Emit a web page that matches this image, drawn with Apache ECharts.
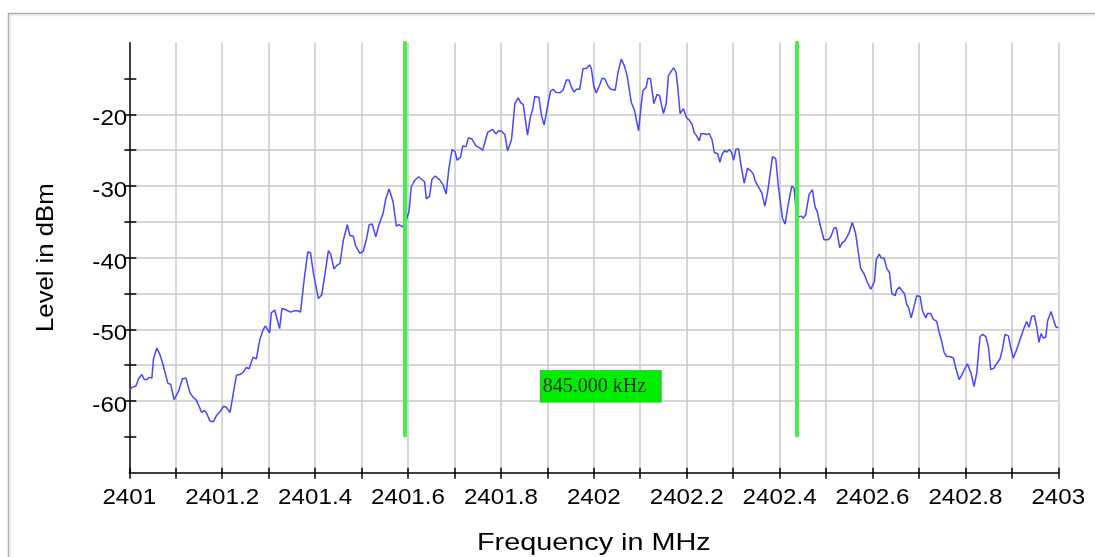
<!DOCTYPE html>
<html>
<head>
<meta charset="utf-8">
<script src="https://cdn.jsdelivr.net/npm/echarts@6/dist/echarts.min.js"></script>
<style>
html,body{margin:0;padding:0;background:#fff;}
#chart{width:1095px;height:557px;}
</style>
</head>
<body>
<div id="chart"></div>
<script>
// ---- data ----
const freqMHz = [
2401.0000,2401.0057,2401.0143,2401.0200,2401.0271,2401.0321,2401.0379,2401.0429,2401.0486,2401.0521,
2401.0593,2401.0664,2401.0721,2401.0757,2401.0829,2401.0893,2401.0964,2401.1057,2401.1143,2401.1221,
2401.1307,2401.1379,2401.1436,2401.1500,2401.1557,2401.1614,2401.1664,2401.1736,2401.1807,2401.1879,
2401.1950,2401.2036,2401.2093,2401.2171,2401.2236,2401.2307,2401.2379,2401.2450,2401.2521,2401.2579,
2401.2664,2401.2736,2401.2807,2401.2879,2401.2929,2401.2964,2401.3021,2401.3057,2401.3129,2401.3186,
2401.3236,2401.3286,2401.3343,2401.3471,2401.3557,2401.3629,2401.3686,2401.3771,2401.3843,2401.3900,
2401.3964,2401.4071,2401.4143,2401.4214,2401.4286,2401.4336,2401.4407,2401.4464,2401.4536,2401.4607,
2401.4693,2401.4750,2401.4821,2401.4871,2401.4964,2401.5036,2401.5107,2401.5164,2401.5229,2401.5307,
2401.5371,2401.5464,2401.5521,2401.5593,2401.5679,2401.5750,2401.5807,2401.5879,2401.5950,2401.6021,
2401.6071,2401.6143,2401.6229,2401.6357,2401.6393,2401.6464,2401.6514,2401.6586,2401.6679,2401.6750,
2401.6821,2401.6879,2401.6950,2401.7014,2401.7057,2401.7129,2401.7179,2401.7250,2401.7300,2401.7371,
2401.7464,2401.7550,2401.7607,2401.7714,2401.7821,2401.7893,2401.7950,2401.8021,2401.8086,2401.8143,
2401.8229,2401.8301,2401.8372,2401.8429,2401.8480,2401.8573,2401.8637,2401.8680,2401.8730,2401.8816,
2401.8873,2401.8931,2401.9016,2401.9067,2401.9124,2401.9181,2401.9267,2401.9339,2401.9374,2401.9410,
2401.9467,2401.9518,2401.9575,2401.9625,2401.9696,2401.9768,2401.9840,2401.9911,2401.9947,2402.0004,
2402.0054,2402.0126,2402.0176,2402.0233,2402.0305,2402.0362,2402.0462,2402.0520,2402.0591,2402.0663,
2402.0720,2402.0749,2402.0806,2402.0878,2402.0964,2402.1021,2402.1057,2402.1128,2402.1164,2402.1221,
2402.1293,2402.1364,2402.1414,2402.1500,2402.1558,2402.1608,2402.1665,2402.1722,2402.1772,2402.1808,
2402.1858,2402.1930,2402.1973,2402.2000,2402.2057,2402.2115,2402.2165,2402.2215,2402.2272,2402.2308,
2402.2379,2402.2429,2402.2487,2402.2544,2402.2594,2402.2666,2402.2716,2402.2759,2402.2823,2402.2859,
2402.2916,2402.2966,2402.3009,2402.3059,2402.3117,2402.3167,2402.3238,2402.3310,2402.3382,2402.3432,
2402.3475,2402.3560,2402.3618,2402.3682,2402.3739,2402.3847,2402.3918,2402.3969,2402.4011,2402.4062,
2402.4119,2402.4190,2402.4262,2402.4312,2402.4362,2402.4419,2402.4470,2402.4505,2402.4563,2402.4634,
2402.4706,2402.4763,2402.4813,2402.4863,2402.4956,2402.5042,2402.5100,2402.5171,2402.5221,2402.5293,
2402.5350,2402.5400,2402.5493,2402.5565,2402.5636,2402.5744,2402.5815,2402.5887,2402.5964,2402.6000,
2402.6043,2402.6079,2402.6143,2402.6186,2402.6251,2402.6308,2402.6366,2402.6416,2402.6487,2402.6523,
2402.6581,2402.6645,2402.6688,2402.6738,2402.6774,2402.6832,2402.6896,2402.6953,2402.7025,2402.7075,
2402.7147,2402.7183,2402.7254,2402.7312,2402.7384,2402.7434,2402.7491,2402.7541,2402.7599,2402.7670,
2402.7742,2402.7792,2402.7864,2402.7921,2402.7971,2402.8043,2402.8122,2402.8186,2402.8244,2402.8315,
2402.8373,2402.8437,2402.8495,2402.8545,2402.8616,2402.8659,2402.8746,2402.8796,2402.8853,2402.8925,
2402.8975,2402.9032,2402.9104,2402.9176,2402.9262,2402.9319,2402.9369,2402.9427,2402.9484,2402.9534,
2402.9584,2402.9627,2402.9677,2402.9728,2402.9771,2402.9842,2402.9878,2402.9943,2403.0000
];
const levelDBm = [
-58.5,-58.1,-57.9,-56.9,-56.3,-57.0,-57.0,-56.7,-56.8,-54.1,
-52.6,-53.6,-54.8,-54.9,-57.5,-57.7,-59.8,-58.7,-56.9,-56.8,
-58.9,-59.5,-59.8,-60.7,-61.6,-61.3,-61.7,-62.8,-62.9,-62.0,
-61.5,-60.7,-60.9,-61.6,-59.0,-56.4,-56.3,-56.0,-55.3,-55.5,
-53.9,-54.1,-51.5,-50.1,-49.5,-49.7,-50.5,-47.7,-47.3,-48.7,
-49.9,-47.1,-47.2,-47.6,-47.4,-47.4,-47.6,-42.7,-39.2,-39.3,
-42.2,-45.7,-45.2,-42.2,-39.0,-39.5,-41.6,-41.1,-40.8,-37.6,
-35.4,-36.9,-37.0,-38.3,-39.4,-39.1,-37.4,-35.4,-35.3,-37.1,
-35.5,-33.8,-31.8,-30.4,-32.2,-35.6,-35.4,-35.7,-35.0,-33.6,
-30.1,-29.2,-28.7,-29.4,-31.8,-31.4,-29.1,-28.6,-29.1,-29.8,
-31.1,-27.6,-24.9,-25.2,-26.4,-26.0,-24.4,-24.5,-23.3,-23.4,
-24.4,-24.7,-25.0,-22.5,-22.1,-22.7,-22.3,-22.4,-22.8,-25.1,
-23.5,-18.5,-17.7,-18.4,-18.6,-22.9,-20.3,-19.4,-17.5,-17.6,
-20.1,-21.5,-18.5,-16.8,-16.5,-16.9,-17.0,-16.6,-16.5,-15.2,
-15.2,-16.2,-16.9,-16.5,-16.5,-13.6,-13.6,-13.1,-13.6,-16.2,
-17.0,-15.9,-15.0,-15.0,-16.0,-16.5,-16.6,-14.2,-12.3,-13.3,
-14.7,-14.9,-18.3,-19.5,-22.3,-18.6,-16.7,-16.2,-15.0,-15.0,
-18.5,-17.2,-17.4,-19.9,-18.5,-14.6,-14.0,-13.5,-14.2,-16.2,
-19.9,-19.2,-19.4,-20.5,-20.8,-21.4,-22.6,-23.0,-23.7,-22.7,
-22.7,-22.8,-22.7,-23.5,-25.3,-25.5,-26.7,-25.6,-25.0,-25.3,
-24.9,-25.3,-26.4,-24.9,-24.8,-27.0,-29.6,-27.5,-27.9,-28.3,
-29.3,-30.3,-31.0,-32.8,-31.0,-25.9,-26.2,-29.8,-31.9,-34.5,
-35.3,-32.4,-30.0,-30.3,-34.0,-34.3,-34.2,-34.5,-34.0,-31.2,
-30.5,-32.9,-33.6,-35.2,-37.5,-37.5,-37.1,-35.9,-35.8,-38.6,
-37.9,-37.7,-36.6,-35.1,-36.6,-41.5,-42.2,-43.4,-44.4,-44.5,
-43.3,-40.3,-39.5,-40.0,-40.1,-41.5,-42.1,-45.0,-45.3,-44.5,
-44.1,-44.7,-45.0,-46.6,-46.9,-48.4,-46.8,-45.3,-45.4,-47.4,
-48.4,-47.8,-47.8,-48.6,-48.9,-50.4,-51.7,-53.2,-53.8,-53.8,
-54.0,-55.4,-57.0,-56.4,-55.7,-54.8,-56.1,-58.0,-56.1,-51.0,
-50.7,-51.0,-52.4,-55.6,-55.4,-54.9,-54.1,-52.8,-50.7,-50.9,
-52.5,-54.0,-52.8,-51.4,-49.8,-48.9,-49.7,-48.2,-48.1,-49.6,
-51.8,-50.6,-51.2,-51.1,-48.8,-47.5,-47.7,-49.6,-49.8
];
const markerFreqs = [2401.5925, 2402.4375];   // MHz, green marker lines
const markerSpan = [-10, -64.8];              // dBm extent of marker lines
const xTickLabels = ['2401','2401.2','2401.4','2401.6','2401.8','2402','2402.2','2402.4','2402.6','2402.8','2403'];
const yTickLabels = ['-60','-50','-40','-30','-20'];
const xAxisTitle = 'Frequency in MHz';
const yAxisTitle = 'Level in dBm';
const xLabelValues = xTickLabels.map(Number);
const yLabelValues = yTickLabels.map(Number);
const yTickValues = [-65,-60,-55,-50,-45,-40,-35,-30,-25,-20,-15];
const xTickValues = [];
for (let i = 0; i <= 20; i++) xTickValues.push(+(2401 + i * 0.1).toFixed(1));

// ---- chart ----
const chart = echarts.init(document.getElementById('chart'), null, {renderer: 'canvas'});
const FONT = '"Liberation Sans", Arial, sans-serif';
const SERIF = '"Liberation Serif", "Times New Roman", serif';
const seriesData = freqMHz.map((f, i) => [f, levelDBm[i]]);
const spanKHz = ((markerFreqs[1] - markerFreqs[0]) * 1000).toFixed(3) + ' kHz';

const option = {
  animation: false,
  backgroundColor: '#ffffff',
  graphic: [{
    id: 'frameOuter', type: 'rect', z: -10, silent: true,
    shape: {x: 8.5, y: 13.5, width: 1100, height: 600},
    style: {fill: 'none', stroke: '#ababab', lineWidth: 1.5}
  }, {
    id: 'frameInner', type: 'rect', z: -10, silent: true,
    shape: {x: 10.5, y: 15.5, width: 1100, height: 600},
    style: {fill: 'none', stroke: '#ececec', lineWidth: 1.5}
  }],
  grid: {left: 129.3, right: 36.7, top: 42.7, bottom: 84.3, containLabel: false, outerBoundsMode: 'none'},
  xAxis: [{
    type: 'value', min: 2401, max: 2403, interval: 0.1,
    axisLine: {show: true, onZero: false, lineStyle: {color: '#000', width: 1.5}},
    axisTick: {show: true, inside: false, length: 6, customValues: xTickValues, lineStyle: {color: '#000', width: 1.5}},
    axisLabel: {show: false},
    splitLine: {show: true, showMinLine: false, showMaxLine: true, lineStyle: {color: '#c8c8c8', width: 1.5}}
  }, {
    type: 'value', min: 2401, max: 2403, interval: 0.1, position: 'bottom', gridIndex: 0,
    axisLine: {show: false},
    axisTick: {show: true, inside: true, length: 5, customValues: xTickValues, lineStyle: {color: '#000', width: 1.5}},
    axisLabel: {show: false}, splitLine: {show: false}
  }],
  yAxis: [{
    type: 'value', min: -70, max: -10, interval: 5,
    axisLine: {show: true, onZero: false, lineStyle: {color: '#000', width: 1.5}},
    axisTick: {show: true, inside: false, length: 5, customValues: yTickValues, lineStyle: {color: '#000', width: 1.5}},
    axisLabel: {show: false},
    splitLine: {show: true, showMinLine: false, showMaxLine: false, lineStyle: {color: '#c8c8c8', width: 1.5}}
  }, {
    type: 'value', min: -70, max: -10, interval: 5, position: 'left', gridIndex: 0,
    axisLine: {show: false},
    axisTick: {show: true, inside: true, length: 7, customValues: yTickValues, lineStyle: {color: '#000', width: 1.5}},
    axisLabel: {show: false}, splitLine: {show: false}
  }],
  series: [{
    type: 'line', xAxisIndex: 0, yAxisIndex: 0,
    data: seriesData, showSymbol: false, symbol: 'none', smooth: false,
    lineStyle: {color: '#4646ff', width: 1.5},
    z: 3,
    markLine: {
      silent: true, symbol: ['none', 'none'], z: 4,
      label: {show: false},
      lineStyle: {color: '#48ee48', width: 4, type: 'solid', cap: 'round'},
      data: markerFreqs.map(f => [{coord: [f, markerSpan[0]]}, {coord: [f, markerSpan[1]]}])
    },
    markPoint: {
      silent: true, z: 5,
      symbol: 'rect', symbolSize: [120, 32],
      itemStyle: {color: '#00ee00', borderColor: '#2fc42f', borderWidth: 1},
      label: {show: true, position: 'insideLeft', distance: 3, formatter: spanKHz,
        fontFamily: SERIF, fontSize: 20, color: '#0a2a0a'},
      data: [{coord: [(markerFreqs[0] + markerFreqs[1]) / 2, -57.95]}]
    }
  }]
};
chart.setOption(option);

// Axis labels and titles: real text placed through the axes' own scales.
const grid = chart.getModel().getComponent('grid', 0).coordinateSystem.getRect();
const texts = [];
xLabelValues.forEach((v, i) => {
  const px = chart.convertToPixel({xAxisIndex: 0}, v);
  texts.push({
    id: 'xl' + i, type: 'text', silent: true, z: 10,
    x: px, y: grid.y + grid.height + 25, scaleX: 1.1,
    style: {text: xTickLabels[i], font: '22px ' + FONT, fill: '#000', align: 'center', verticalAlign: 'middle'}
  });
});
yLabelValues.forEach((v, i) => {
  const py = chart.convertToPixel({yAxisIndex: 0}, v);
  texts.push({
    id: 'yl' + i, type: 'text', silent: true, z: 10,
    x: grid.x - 2, y: py + 5, scaleX: 1.1,
    style: {text: yTickLabels[i], font: '22px ' + FONT, fill: '#000', align: 'right', verticalAlign: 'middle'}
  });
});
texts.push({
  id: 'xt', type: 'text', silent: true, z: 10,
  x: grid.x + grid.width / 2, y: grid.y + grid.height + 71, scaleX: 1.2,
  style: {text: xAxisTitle, font: '24px ' + FONT, fill: '#000', align: 'center', verticalAlign: 'middle'}
});
texts.push({
  id: 'yt', type: 'text', silent: true, z: 10,
  x: 46, y: grid.y + grid.height / 2, rotation: Math.PI / 2, scaleX: 1.07,
  style: {text: yAxisTitle, font: '24px ' + FONT, fill: '#000', align: 'center', verticalAlign: 'middle'}
});
chart.setOption({graphic: texts});
</script>
</body>
</html>
